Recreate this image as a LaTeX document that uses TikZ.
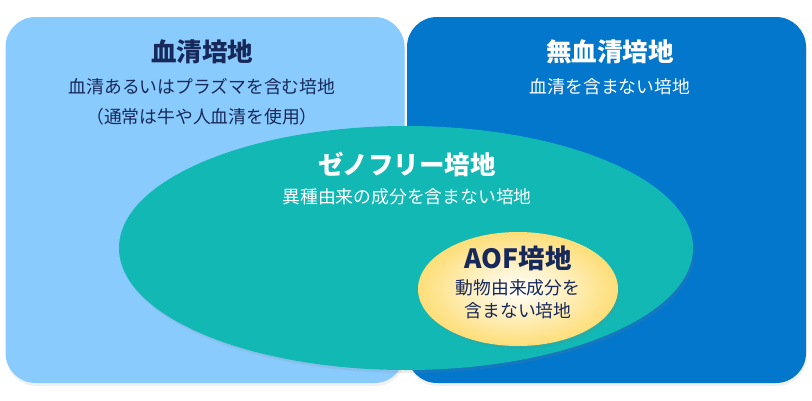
\documentclass[tikz,border=0pt]{standalone}
\usepackage{fontspec}
\setmainfont{Noto Sans CJK JP}
\usetikzlibrary{shapes.geometric,shadows}
\definecolor{serumblue}{HTML}{8ACBFE}
\definecolor{freeblue}{HTML}{0277CC}
\definecolor{xenoteal}{HTML}{12B8B4}
\definecolor{aofyellow}{HTML}{FDD247}
\definecolor{navy}{HTML}{17285A}
\pgfdeclareradialshading{aofglow}{\pgfpoint{0bp}{0bp}}{color(0bp)=(white); color(34bp)=(aofyellow); color(50bp)=(aofyellow)}

\begin{document}
\begin{tikzpicture}[x=1pt,y=-1pt,
  box/.style={rounded corners=30pt, inner sep=0pt, minimum width=399pt, minimum height=366pt,
    drop shadow={opacity=.12,shadow xshift=1pt,shadow yshift=-3pt}},
  blob/.style={ellipse, inner sep=0pt, drop shadow={opacity=.15,shadow xshift=2pt,shadow yshift=-3pt}},
  title/.style={font=\bfseries\fontsize{25.5}{28}\selectfont},
  sub/.style={font=\fontsize{17.8}{30}\selectfont, align=center}]
\useasboundingbox (0,0) rectangle (812,400);
% two halves
\node[box, fill=serumblue] (serum) at (205,200) {};
\node[box, fill=freeblue] (free) at (606.5,200) {};
\node[title, text=navy] (serumtitle) at (202,52) {血清培地};
\node[sub, text=navy] (serumtext) at (202,102) {血清あるいはプラズマを含む培地\\（通常は牛や人血清を使用）};
\node[title, text=white] (freetitle) at (610,52) {無血清培地};
\node[sub, text=white] (freetext) at (610,87) {血清を含まない培地};
% xeno-free
\node[blob, fill=xenoteal, minimum width=574pt, minimum height=244pt] (xeno) at (406,248) {};
\node[title, text=white] (xenotitle) at (407,164) {ゼノフリー培地};
\node[sub, text=white] (xenotext) at (407,197) {異種由来の成分を含まない培地};
% animal origin free
\node[blob, shading=aofglow, minimum width=200pt, minimum height=114pt] (aof) at (518,289) {};
\node[title, text=navy, font=\bfseries\fontsize{26.5}{28}\selectfont] (aoftitle) at (518,258) {AOF培地};
\node[sub, text=navy, font=\fontsize{17.8}{23}\selectfont] (aoftext) at (518,299.5) {動物由来成分を\\含まない培地};
\end{tikzpicture}
\end{document}
